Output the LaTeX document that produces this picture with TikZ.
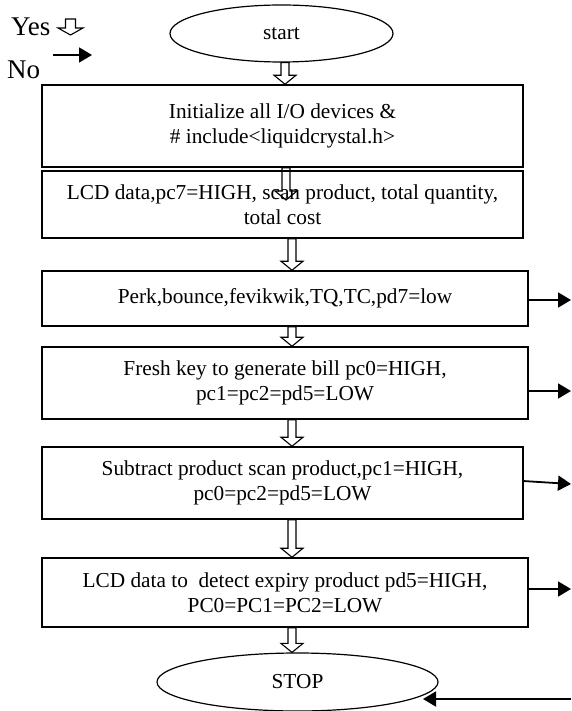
\documentclass[tikz,border=0pt]{standalone}
\usepackage{fontspec}
\setmainfont{Liberation Serif}
\usetikzlibrary{shapes.geometric,arrows.meta,calc}
\newcommand\hollowarrow[5]{%
  \draw[hol] let \p1=(#1),\p2=(#2) in
    (\x1-#3pt,\y1) -- (\x1-#3pt,\y2+#5pt) -- (\x1-#4pt,\y2+#5pt) -- (\x1,\y2)
    -- (\x1+#4pt,\y2+#5pt) -- (\x1+#3pt,\y2+#5pt) -- (\x1+#3pt,\y1) -- cycle;}
\begin{document}
\begin{tikzpicture}[x=1pt,y=-1pt,
  box/.style={draw,line width=1.5pt,align=center,font=\fontsize{21.3}{25}\selectfont,inner sep=0pt},
  oval/.style={draw,ellipse,line width=1.2pt,font=\fontsize{21.3}{25}\selectfont,inner sep=0pt},
  legend/.style={font=\fontsize{27}{28}\selectfont,inner sep=0pt,anchor=west},
  blk/.style={line width=1.8pt,-{Triangle[length=13pt,width=15pt]}},
  hol/.style={line width=1.1pt,line join=miter}]
\useasboundingbox (0,0) rectangle (571,711);

% legend
\node[legend] (yes) at (11,27) {Yes};
\node[legend] (no) at (7,70) {No};
\coordinate (ly1) at (70.5,19);
\coordinate (ly2) at (70.5,35);
\hollowarrow{ly1}{ly2}{5}{12.5}{7}
\coordinate (ln1) at (53,55);
\coordinate (ln2) at (92,55);
\draw[blk] (ln1) -- (ln2);

% nodes
\node[oval,minimum width=223pt,minimum height=57pt] (start) at (281.5,33.5) {start};
\node[box,minimum width=481pt,minimum height=82pt] (b1) at (282.5,126)
  {Initialize all I/O devices \&\\ \# include<liquidcrystal.h>};
\node[box,minimum width=481pt,minimum height=67pt] (b2) at (282.5,204.5)
  {LCD data,pc7=HIGH, scan product, total quantity,\\ total cost};
\node[box,minimum width=486pt,minimum height=55pt] (b3) at (285,298.5)
  {Perk,bounce,fevikwik,TQ,TC,pd7=low};
\node[box,minimum width=486pt,minimum height=72pt] (b4) at (285,383)
  {Fresh key to generate bill pc0=HIGH,\\ pc1=pc2=pd5=LOW};
\node[box,minimum width=481pt,minimum height=72pt] (b5) at (282.5,483)
  {Subtract product scan product,pc1=HIGH,\\ pc0=pc2=pd5=LOW};
\node[box,minimum width=486pt,minimum height=69pt] (b6) at (285,592.5)
  {LCD data to~ detect expiry product pd5=HIGH,\\ PC0=PC1=PC2=LOW};
\node[oval,minimum width=281pt,minimum height=58pt] (stop) at (297.5,682) {STOP};

% hollow flow arrows
\coordinate (xA) at (285,0);
\coordinate (xB) at (292,0);
\coordinate (xC) at (286,0);
\coordinate (c2) at (286,200);
\hollowarrow{start.south -| xA}{b1.north -| xA}{4}{11}{9}
\hollowarrow{b1.south -| xC}{c2}{4}{11}{9}
\hollowarrow{b2.south -| xB}{b3.north -| xB}{4}{11}{9}
\hollowarrow{b3.south -| xB}{b4.north -| xB}{4}{11}{9}
\hollowarrow{b4.south -| xB}{b5.north -| xB}{4}{11}{9}
\hollowarrow{b5.south -| xB}{b6.north -| xB}{4}{11}{9}
\hollowarrow{b6.south -| xB}{stop.north -| xB}{4}{11}{9}

% "No" arrows
\coordinate (e3) at (571,300);
\coordinate (e4) at (571,391);
\coordinate (e5) at (571,484);
\coordinate (e6) at (571,589);
\coordinate (s4) at (528,391);
\coordinate (s5) at (523,481);
\coordinate (s6) at (528,589);
\draw[blk] (b3.east |- e3) -- (e3);
\draw[blk] (s4) -- (e4);
\draw[blk] (s5) -- (e5);
\draw[blk] (s6) -- (e6);
\coordinate (e7) at (571,699);
\coordinate (t7) at (423,699);
\draw[blk] (e7) -- (t7);
\end{tikzpicture}
\end{document}
